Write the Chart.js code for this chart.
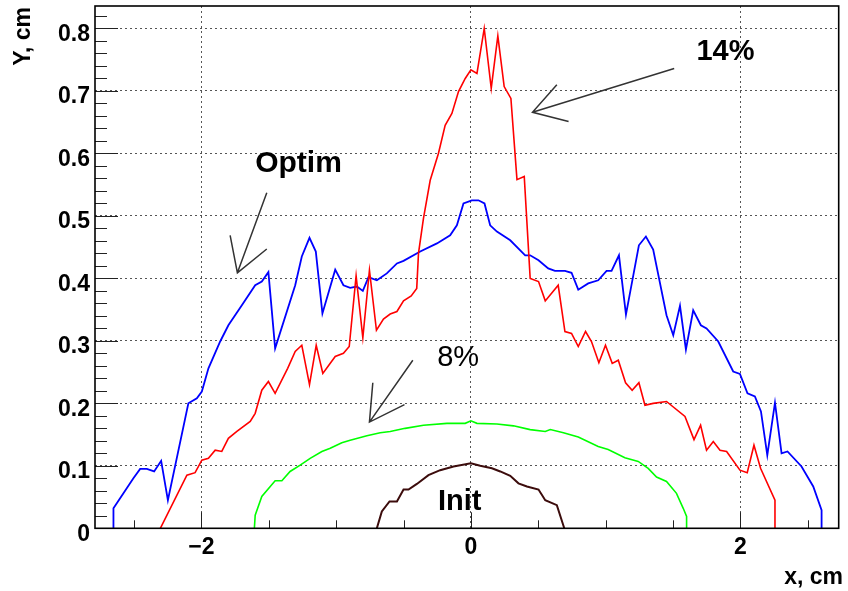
<!DOCTYPE html>
<html>
<head>
<meta charset="utf-8">
<script src="https://cdn.jsdelivr.net/npm/chart.js@4.4.1/dist/chart.umd.min.js"></script>
<style>
  html, body { margin: 0; padding: 0; background: #fff; }
  canvas { display: block; }
</style>
</head>
<body>
<canvas id="chart" width="848" height="591"></canvas>
<script>
// profiles, x and y in cm
const optimX = [-2.653, -2.653, -2.505, -2.455, -2.405, -2.351, -2.299, -2.249, -2.097, -2.034, -1.997, -1.948, -1.861, -1.800, -1.700, -1.601, -1.552, -1.503, -1.453, -1.304, -1.255, -1.198, -1.151, -1.102, -1.007, -0.946, -0.896, -0.846, -0.802, -0.760, -0.698, -0.624, -0.549, -0.500, -0.376, -0.252, -0.154, -0.104, -0.055, 0.007, 0.056, 0.101, 0.143, 0.193, 0.292, 0.403, 0.440, 0.502, 0.574, 0.624, 0.698, 0.747, 0.797, 0.871, 0.945, 1.007, 1.044, 1.099, 1.151, 1.247, 1.299, 1.353, 1.452, 1.502, 1.552, 1.596, 1.650, 1.707, 1.749, 1.836, 1.947, 1.997, 2.053, 2.108, 2.153, 2.200, 2.257, 2.306, 2.350, 2.454, 2.541, 2.603, 2.603];
const optimY = [0, 0.032, 0.080, 0.095, 0.095, 0.091, 0.108, 0.045, 0.200, 0.208, 0.219, 0.256, 0.299, 0.325, 0.357, 0.389, 0.395, 0.410, 0.288, 0.389, 0.435, 0.465, 0.443, 0.344, 0.414, 0.389, 0.385, 0.387, 0.380, 0.402, 0.397, 0.408, 0.424, 0.428, 0.443, 0.456, 0.469, 0.485, 0.520, 0.525, 0.525, 0.520, 0.485, 0.475, 0.461, 0.437, 0.437, 0.429, 0.416, 0.412, 0.412, 0.409, 0.382, 0.392, 0.397, 0.412, 0.412, 0.437, 0.342, 0.453, 0.467, 0.446, 0.341, 0.309, 0.356, 0.286, 0.349, 0.325, 0.320, 0.299, 0.251, 0.247, 0.216, 0.211, 0.187, 0.117, 0.201, 0.120, 0.123, 0.099, 0.067, 0.029, 0];

const p14X = [-2.305, -2.108, -2.047, -1.997, -1.948, -1.898, -1.849, -1.800, -1.737, -1.638, -1.601, -1.552, -1.503, -1.453, -1.360, -1.304, -1.255, -1.198, -1.148, -1.099, -1.007, -0.946, -0.903, -0.852, -0.802, -0.753, -0.701, -0.649, -0.599, -0.549, -0.500, -0.443, -0.402, -0.389, -0.352, -0.302, -0.241, -0.191, -0.141, -0.092, -0.042, 0.000, 0.045, 0.099, 0.151, 0.200, 0.247, 0.297, 0.342, 0.396, 0.440, 0.502, 0.552, 0.648, 0.698, 0.747, 0.797, 0.851, 0.895, 0.950, 0.999, 1.049, 1.094, 1.148, 1.197, 1.247, 1.292, 1.353, 1.452, 1.589, 1.656, 1.705, 1.749, 1.799, 1.849, 1.898, 1.997, 2.051, 2.101, 2.150, 2.257, 2.257];
const p14Y = [0, 0.085, 0.089, 0.109, 0.112, 0.125, 0.123, 0.144, 0.155, 0.171, 0.184, 0.221, 0.235, 0.216, 0.256, 0.283, 0.293, 0.230, 0.293, 0.248, 0.275, 0.280, 0.291, 0.404, 0.305, 0.413, 0.317, 0.335, 0.343, 0.347, 0.364, 0.372, 0.384, 0.440, 0.496, 0.557, 0.600, 0.645, 0.664, 0.699, 0.720, 0.734, 0.728, 0.800, 0.704, 0.788, 0.707, 0.688, 0.558, 0.563, 0.400, 0.395, 0.364, 0.389, 0.315, 0.312, 0.291, 0.315, 0.299, 0.265, 0.293, 0.264, 0.269, 0.233, 0.221, 0.233, 0.197, 0.200, 0.203, 0.179, 0.142, 0.165, 0.125, 0.139, 0.125, 0.123, 0.093, 0.089, 0.133, 0.096, 0.045, 0];

const p8X = [-1.607, -1.601, -1.552, -1.453, -1.403, -1.342, -1.267, -1.193, -1.106, -1.044, -0.958, -0.896, -0.772, -0.673, -0.599, -0.488, -0.352, -0.178, -0.042, 0.000, 0.045, 0.193, 0.316, 0.440, 0.552, 0.589, 0.687, 0.797, 0.945, 1.019, 1.143, 1.242, 1.316, 1.378, 1.452, 1.526, 1.576, 1.601, 1.601];
const p8Y = [0, 0.021, 0.051, 0.076, 0.076, 0.091, 0.101, 0.112, 0.123, 0.128, 0.137, 0.141, 0.148, 0.153, 0.155, 0.160, 0.165, 0.168, 0.168, 0.172, 0.168, 0.167, 0.164, 0.158, 0.155, 0.158, 0.153, 0.146, 0.131, 0.126, 0.113, 0.107, 0.096, 0.082, 0.075, 0.056, 0.032, 0.019, 0];

const initX = [-0.698, -0.661, -0.604, -0.549, -0.500, -0.463, -0.401, -0.315, -0.228, -0.129, 0.000, 0.069, 0.156, 0.218, 0.292, 0.353, 0.416, 0.502, 0.552, 0.638, 0.693];
const initY = [0, 0.027, 0.043, 0.043, 0.062, 0.062, 0.071, 0.085, 0.093, 0.099, 0.104, 0.100, 0.096, 0.091, 0.084, 0.072, 0.067, 0.062, 0.045, 0.037, 0];

// text labels and arrows, in data units
const labels = [
  { text: 'Optim', x: -1.601, y: 0.571, font: 'bold 30px "Liberation Sans"' },
  { text: '14%', x: 1.674, y: 0.749, font: 'bold 29px "Liberation Sans"' },
  { text: '8%', x: -0.250, y: 0.260, font: '29px "Liberation Sans"' },
  { text: 'Init', x: -0.245, y: 0.030, font: 'bold 29px "Liberation Sans"' }
];
const arrows = [
  { tail: [-1.515, 0.537], tip: [-1.733, 0.409], h1: [-1.787, 0.469], h2: [-1.515, 0.447] },
  { tail: [1.509, 0.736], tip: [0.457, 0.666], h1: [0.638, 0.710], h2: [0.725, 0.651] },
  { tail: [-0.431, 0.269], tip: [-0.753, 0.170], h1: [-0.728, 0.233], h2: [-0.493, 0.198] }
];

function pts(xs, ys) {
  return xs.map((x, i) => ({ x: x, y: ys[i] }));
}

const extras = {
  id: 'extras',
  afterDatasetsDraw(chart) {
    const { ctx, chartArea: a, scales: { x, y } } = chart;
    ctx.save();
    // tick marks, pointing into the frame
    ctx.strokeStyle = '#222';
    ctx.lineWidth = 1;
    ctx.beginPath();
    for (let i = 0; i <= 41; i++) {
      const py = Math.round(y.getPixelForValue(i * 0.02)) + 0.5;
      const len = i % 5 === 0 ? 23 : 12;
      ctx.moveTo(a.left, py);
      ctx.lineTo(a.left + len, py);
    }
    for (let k = -5; k <= 5; k++) {
      const px = Math.round(x.getPixelForValue(k * 0.5)) + 0.5;
      const len = k % 4 === 0 ? 16 : 8;
      ctx.moveTo(px, a.bottom);
      ctx.lineTo(px, a.bottom - len);
    }
    ctx.stroke();

    // frame
    ctx.strokeStyle = '#000';
    ctx.lineWidth = 1.6;
    ctx.strokeRect(a.left, a.top, a.right - a.left, a.bottom - a.top);

    // arrows
    ctx.strokeStyle = '#333';
    ctx.lineWidth = 1.5;
    arrows.forEach((ar) => {
      const p = (v) => [x.getPixelForValue(v[0]), y.getPixelForValue(v[1])];
      const t = p(ar.tail), h = p(ar.tip), a1 = p(ar.h1), a2 = p(ar.h2);
      ctx.beginPath();
      ctx.moveTo(t[0], t[1]);
      ctx.lineTo(h[0], h[1]);
      ctx.moveTo(a1[0], a1[1]);
      ctx.lineTo(h[0], h[1]);
      ctx.lineTo(a2[0], a2[1]);
      ctx.stroke();
    });

    // labels
    ctx.fillStyle = '#000';
    ctx.textAlign = 'left';
    ctx.textBaseline = 'alphabetic';
    labels.forEach((l) => {
      ctx.font = l.font;
      ctx.fillText(l.text, x.getPixelForValue(l.x), y.getPixelForValue(l.y));
    });

    // axis titles
    ctx.font = 'bold 23px "Liberation Sans"';
    ctx.textAlign = 'right';
    ctx.fillText('x, cm', 843, 584);
    ctx.translate(30, 7);
    ctx.rotate(-Math.PI / 2);
    ctx.fillText('Y, cm', 0, 0);
    ctx.restore();
  }
};

const tickFont = { family: 'Liberation Sans', size: 23, weight: 'bold' };

new Chart(document.getElementById('chart'), {
  type: 'scatter',
  data: {
    datasets: [
      { label: 'Init', data: pts(initX, initY), borderColor: '#3c0c0c', borderWidth: 2 },
      { label: '8%', data: pts(p8X, p8Y), borderColor: '#00ff00', borderWidth: 1.6 },
      { label: '14%', data: pts(p14X, p14Y), borderColor: '#ff0000', borderWidth: 1.6 },
      { label: 'Optim', data: pts(optimX, optimY), borderColor: '#0000ff', borderWidth: 1.8 }
    ]
  },
  options: {
    responsive: false,
    animation: false,
    devicePixelRatio: 1,
    showLine: true,
    elements: { point: { radius: 0 }, line: { tension: 0, fill: false } },
    layout: { padding: { left: 0, top: 6, right: 9.3, bottom: 0 } },
    plugins: { legend: { display: false }, tooltip: { enabled: false } },
    scales: {
      x: {
        type: 'linear',
        min: -2.79,
        max: 2.73,
        afterFit: (s) => { s.height = 62.7; s.paddingLeft = 0; s.paddingRight = 0; },
        ticks: {
          stepSize: 1,
          includeBounds: false,
          padding: 6,
          color: '#000',
          font: tickFont,
          maxRotation: 0,
          autoSkip: false,
          callback: (v) => (v % 2 === 0 ? (v < 0 ? '\u2212' + Math.abs(v) : String(v)) : '')
        },
        grid: {
          drawTicks: false,
          lineWidth: 1,
          color: (c) => (c.tick && c.tick.value % 2 === 0 ? '#555' : 'rgba(0,0,0,0)')
        },
        border: { display: false, dash: [2, 3] }
      },
      y: {
        type: 'linear',
        min: 0,
        max: 0.836,
        afterFit: (s) => { s.width = 95; s.paddingTop = 0; s.paddingBottom = 0; },
        ticks: {
          stepSize: 0.1,
          includeBounds: false,
          padding: 5,
          labelOffset: 6,
          color: '#000',
          font: tickFont,
          autoSkip: false,
          callback: (v) => (v === 0 ? '0' : v.toFixed(1))
        },
        grid: {
          drawTicks: false,
          lineWidth: 1,
          color: (c) => (c.tick && c.tick.value > 0.01 ? '#555' : 'rgba(0,0,0,0)')
        },
        border: { display: false, dash: [2, 3] }
      }
    }
  },
  plugins: [extras]
});
</script>
</body>
</html>
